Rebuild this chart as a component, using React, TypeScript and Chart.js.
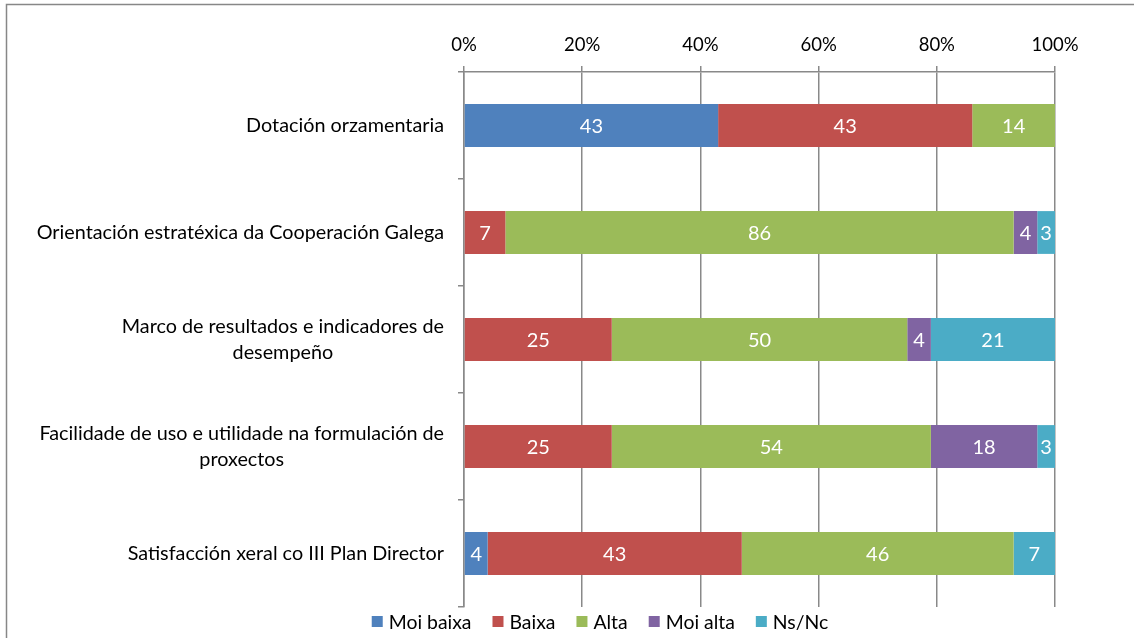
import React, { useEffect, useRef } from "react";
import { Chart, registerables } from "chart.js";

Chart.register(...registerables);

const categories: (string | string[])[] = [
  "Dotación orzamentaria",
  "Orientación estratéxica da Cooperación Galega",
  ["Marco de resultados e indicadores de", "desempeño"],
  ["Facilidade de uso e utilidade na formulación de", "proxectos"],
  "Satisfacción xeral co III Plan Director",
];

const seriesNames = ["Moi baixa", "Baixa", "Alta", "Moi alta", "Ns/Nc"];
const moiBaixa = [43, null, null, null, 4];
const baixa = [43, 7, 25, 25, 43];
const alta = [14, 86, 50, 54, 46];
const moiAlta = [null, 4, 4, 18, null];
const nsNc = [null, 3, 21, 3, 7];
const seriesColors = ["#4F81BD", "#C0504D", "#9BBB59", "#8064A2", "#4BACC6"];
const xTickStep = 20;
const xMax = 100;

const FONT = "Lato, 'Open Sans', sans-serif";
const GRID = "#898989";

const customPlugin = {
  id: "customDraw",
  beforeDraw(chart: any) {
    const { ctx, width, height } = chart;
    ctx.save();
    ctx.fillStyle = "#ffffff";
    ctx.fillRect(0, 0, width, height);
    ctx.strokeStyle = "#878787";
    ctx.lineWidth = 1.5;
    ctx.strokeRect(6.5, 4.5, width + 50, height + 50);
    ctx.restore();
  },
  afterDatasetsDraw(chart: any) {
    const { ctx } = chart;
    ctx.save();
    ctx.fillStyle = "#ffffff";
    ctx.font = `20px ${FONT}`;
    ctx.textAlign = "center";
    ctx.textBaseline = "middle";
    chart.data.datasets.forEach((ds: any, di: number) => {
      const meta = chart.getDatasetMeta(di);
      meta.data.forEach((el: any, i: number) => {
        const v = ds.data[i];
        if (v == null || v <= 0) return;
        const { x, base, y } = el.getProps(["x", "base", "y"], true);
        ctx.fillText(String(v), (x + base) / 2, y + 1);
      });
    });
    ctx.restore();
  },
  afterDraw(chart: any) {
    const { ctx } = chart;
    const yScale = chart.scales.y;
    ctx.save();
    // category labels
    ctx.fillStyle = "#000000";
    ctx.font = `19.8px ${FONT}`;
    ctx.textBaseline = "middle";
    ctx.textAlign = "center";
    const rightEdge = yScale.right - 20;
    const lh = 26;
    categories.forEach((c, i) => {
      const lines = Array.isArray(c) ? c : [c];
      const maxW = Math.max(...lines.map((l) => ctx.measureText(l).width));
      const cx = rightEdge - maxW / 2;
      const cy = yScale.getPixelForValue(i);
      lines.forEach((l, j) => {
        ctx.fillText(l, cx, cy + (j - (lines.length - 1) / 2) * lh);
      });
    });
    // legend
    ctx.font = `19.4px ${FONT}`;
    ctx.textAlign = "left";
    const box = 11;
    const gapBoxText = 6;
    const gapItems = 21;
    const widths = chart.data.datasets.map((d: any) => ctx.measureText(d.label).width);
    const total =
      widths.reduce((a: number, w: number) => a + box + gapBoxText + w, 0) +
      gapItems * (widths.length - 1);
    let x = 600 - total / 2;
    const ly = 621.5;
    chart.data.datasets.forEach((d: any, i: number) => {
      ctx.fillStyle = d.backgroundColor;
      ctx.fillRect(x, ly - box / 2, box, box);
      ctx.fillStyle = "#000000";
      ctx.fillText(d.label, x + box + gapBoxText, ly + 1);
      x += box + gapBoxText + widths[i] + gapItems;
    });
    ctx.restore();
  },
};

export default function App() {
  const ref = useRef<HTMLCanvasElement | null>(null);
  useEffect(() => {
    if (!ref.current) return;
    const dataArrays = [moiBaixa, baixa, alta, moiAlta, nsNc];
    const chart = new Chart(ref.current, {
      type: "bar",
      data: {
        labels: categories.map((c) => (Array.isArray(c) ? c.join(" ") : c)),
        datasets: seriesNames.map((name, i) => ({
          label: name,
          data: dataArrays[i] as any,
          backgroundColor: seriesColors[i],
          borderWidth: 0,
          barPercentage: 0.4,
          categoryPercentage: 1,
        })),
      },
      options: {
        indexAxis: "y",
        animation: false,
        responsive: false,
        maintainAspectRatio: false,
        layout: { padding: { left: 0, right: 79, top: 0, bottom: 31 } },
        plugins: {
          legend: { display: false },
          tooltip: { enabled: false },
        },
        scales: {
          x: {
            position: "top",
            stacked: true,
            min: 0,
            max: xMax,
            ticks: {
              stepSize: xTickStep,
              padding: 10,
              color: "#000000",
              font: { family: FONT, size: 18.5 },
              callback: (v: any) => `${v}%`,
            },
            grid: {
              color: GRID,
              lineWidth: 1.5,
              drawTicks: true,
              tickLength: 6,
            },
            border: { display: true, color: GRID, width: 1.5 },
            afterFit: (s: any) => {
              s.height = 72;
            },
          },
          y: {
            stacked: true,
            ticks: { display: false },
            grid: {
              drawOnChartArea: false,
              drawTicks: true,
              tickLength: 6,
              offset: true,
              color: GRID,
              lineWidth: 1.5,
            },
            border: { display: true, color: GRID, width: 1.5 },
            afterFit: (s: any) => {
              s.width = 464;
            },
          },
        },
      },
      plugins: [customPlugin],
    });
    return () => chart.destroy();
  }, []);
  return (
    <div style={{ position: "absolute", left: 0, top: 0, width: 1134, height: 638, overflow: "hidden" }}>
      <canvas ref={ref} width={1134} height={638} style={{ display: "block", width: 1134, height: 638 }} />
    </div>
  );
}
